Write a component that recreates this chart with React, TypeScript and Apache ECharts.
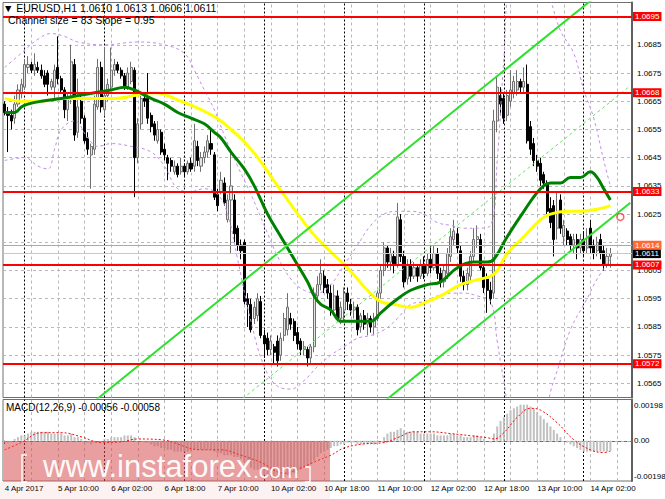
import React, { useEffect, useRef } from 'react';
import * as echarts from 'echarts';

const FONT = '"Liberation Sans", Arial, sans-serif';

// ---- header / info texts ----
const symbolName = 'EURUSD,H1';
const headerOHLC = [1.061, 1.0613, 1.0606, 1.0611]; // O H L C
const channelSize = 83;
const channelSlope = 0.95;
const macdParams = '12,26,9';
const macdLast = [-0.00056, -0.00058];

// ---- axis labels ----
const tickLabels = ['4 Apr 2017', '5 Apr 10:00', '6 Apr 02:00', '6 Apr 18:00', '7 Apr 10:00', '10 Apr 02:00', '10 Apr 18:00', '11 Apr 10:00', '12 Apr 02:00', '12 Apr 18:00', '13 Apr 10:00', '14 Apr 02:00'];
const barsPerLabel = 16;
const slotCount = 189; // 183 bars + empty right margin
const priceGridLevels = [1.0565, 1.0575, 1.0585, 1.0595, 1.0605, 1.0615, 1.0625, 1.0635, 1.0645, 1.0655, 1.0665, 1.0675, 1.0685, 1.0695];
const verticalGridBars = [8, 16, 24, 32, 40, 48, 56, 64, 72, 80, 88, 96, 104, 112, 120, 128, 136, 144, 152, 160, 168, 176, 184];
const daySeparatorBars = [6, 30, 54, 78, 102, 126, 150, 174];
const macdLevels = [0.00198, 0, -0.00198];

// ---- horizontal levels ----
const redLevels = [1.0695, 1.0668, 1.0633, 1.0607, 1.0572];
const orangeLevel = 1.0614;
const bidLevel = 1.0611;
const boxedLevels = [...redLevels, orangeLevel, bidLevel];

// ---- candles [open, close, low, high] ----
const candles = [
  [1.0664, 1.0661, 1.066, 1.0665], [1.0661, 1.066, 1.0647, 1.0663], [1.066, 1.0658, 1.0655, 1.0662], [1.0659, 1.0664, 1.0657, 1.0667], [1.0664, 1.0669, 1.0663, 1.0671],
  [1.0668, 1.0671, 1.0666, 1.0673], [1.067, 1.0678, 1.0669, 1.068], [1.0677, 1.0678, 1.0675, 1.0681], [1.0678, 1.0676, 1.0675, 1.0679], [1.0676, 1.0678, 1.0674, 1.0682],
  [1.0677, 1.0676, 1.0675, 1.0679], [1.0676, 1.0674, 1.0673, 1.0678], [1.0674, 1.0671, 1.067, 1.0676], [1.0675, 1.0671, 1.0667, 1.0676], [1.067, 1.0672, 1.0669, 1.0673],
  [1.067, 1.0676, 1.0666, 1.0678], [1.0677, 1.0673, 1.0671, 1.0688], [1.0673, 1.0669, 1.0668, 1.0674], [1.0669, 1.0662, 1.0659, 1.067], [1.0662, 1.0666, 1.0658, 1.0668],
  [1.0666, 1.0679, 1.0664, 1.0685], [1.0678, 1.0653, 1.0651, 1.068], [1.0654, 1.0663, 1.0652, 1.0673], [1.0665, 1.0659, 1.0657, 1.0667], [1.0659, 1.0651, 1.065, 1.066],
  [1.0652, 1.0648, 1.0646, 1.0654], [1.0646, 1.0649, 1.0634, 1.065], [1.0648, 1.0664, 1.0646, 1.0667], [1.0663, 1.0677, 1.0662, 1.068], [1.0677, 1.0663, 1.0661, 1.0679],
  [1.0662, 1.0667, 1.066, 1.0684], [1.0667, 1.0671, 1.0665, 1.0673], [1.067, 1.0676, 1.0669, 1.0684], [1.0676, 1.0678, 1.0674, 1.068], [1.0678, 1.0676, 1.0675, 1.0679],
  [1.0676, 1.0674, 1.0673, 1.0677], [1.0674, 1.067, 1.0669, 1.0675], [1.067, 1.0675, 1.0669, 1.0677], [1.0672, 1.0677, 1.0671, 1.0679], [1.0676, 1.0645, 1.0631, 1.0677],
  [1.0645, 1.0657, 1.0643, 1.0659], [1.0657, 1.0666, 1.0655, 1.0667], [1.0666, 1.0665, 1.0663, 1.0668], [1.0666, 1.0659, 1.0657, 1.0675], [1.066, 1.0656, 1.0654, 1.0661],
  [1.0657, 1.0653, 1.0651, 1.0658], [1.0651, 1.0655, 1.065, 1.0658], [1.0654, 1.0647, 1.0646, 1.0655], [1.0648, 1.0646, 1.0644, 1.065], [1.0645, 1.0643, 1.0637, 1.0646],
  [1.0644, 1.0642, 1.064, 1.0645], [1.064, 1.0642, 1.0639, 1.0644], [1.0642, 1.0639, 1.0638, 1.0643], [1.064, 1.0642, 1.0639, 1.0645], [1.0642, 1.064, 1.0638, 1.0643],
  [1.064, 1.0643, 1.0639, 1.0644], [1.0643, 1.0641, 1.064, 1.0645], [1.0642, 1.0651, 1.064, 1.0657], [1.0649, 1.0644, 1.0642, 1.0651], [1.0642, 1.0645, 1.064, 1.0647],
  [1.0645, 1.0647, 1.0643, 1.0649], [1.0647, 1.0651, 1.0645, 1.0653], [1.065, 1.0648, 1.0646, 1.0655], [1.0646, 1.0631, 1.063, 1.0647], [1.0632, 1.0628, 1.0626, 1.0634],
  [1.0633, 1.0637, 1.0632, 1.064], [1.0636, 1.0629, 1.0628, 1.0638], [1.0623, 1.063, 1.0622, 1.0632], [1.063, 1.0635, 1.0611, 1.0648], [1.063, 1.0618, 1.0615, 1.0632],
  [1.062, 1.0614, 1.0612, 1.0621], [1.0614, 1.0612, 1.0609, 1.0616], [1.0615, 1.0594, 1.0593, 1.0616], [1.0595, 1.0593, 1.0585, 1.0597], [1.0593, 1.0584, 1.0583, 1.0595],
  [1.0588, 1.0592, 1.0586, 1.0594], [1.0589, 1.0595, 1.0587, 1.0597], [1.0594, 1.0582, 1.0581, 1.0596], [1.0582, 1.0579, 1.0574, 1.0584], [1.0581, 1.0577, 1.0575, 1.0583],
  [1.0577, 1.058, 1.0575, 1.0582], [1.0578, 1.0576, 1.0572, 1.0579], [1.058, 1.0573, 1.0571, 1.0582], [1.0575, 1.0581, 1.0573, 1.0583], [1.0582, 1.0588, 1.058, 1.059],
  [1.0584, 1.0592, 1.0582, 1.0597], [1.0588, 1.0586, 1.0584, 1.059], [1.0587, 1.0582, 1.058, 1.0588], [1.0583, 1.0579, 1.0577, 1.0585], [1.058, 1.0577, 1.0575, 1.0581],
  [1.0577, 1.0578, 1.0575, 1.058], [1.0577, 1.0574, 1.0571, 1.0578], [1.0574, 1.0578, 1.0572, 1.0579], [1.0578, 1.0597, 1.0576, 1.0599], [1.0596, 1.06, 1.0594, 1.0603],
  [1.06, 1.0604, 1.0598, 1.0609], [1.0603, 1.0599, 1.0597, 1.0605], [1.06, 1.0597, 1.0595, 1.0602], [1.0597, 1.0591, 1.0589, 1.06], [1.0591, 1.0596, 1.0589, 1.06],
  [1.0596, 1.0588, 1.0587, 1.0598], [1.0588, 1.0592, 1.0586, 1.0594], [1.0591, 1.0597, 1.0587, 1.0599], [1.0597, 1.0594, 1.0591, 1.0599], [1.0593, 1.0591, 1.0589, 1.0595],
  [1.0591, 1.0592, 1.0588, 1.0594], [1.0592, 1.0584, 1.0582, 1.0593], [1.0585, 1.0589, 1.0583, 1.059], [1.0589, 1.0586, 1.0584, 1.0591], [1.0586, 1.0588, 1.0582, 1.059],
  [1.0588, 1.0585, 1.0583, 1.0589], [1.0585, 1.0588, 1.0582, 1.059], [1.0588, 1.0597, 1.0587, 1.0598], [1.0597, 1.0605, 1.0595, 1.0607], [1.0605, 1.0613, 1.0603, 1.0615],
  [1.0613, 1.0608, 1.0606, 1.0614], [1.0608, 1.0611, 1.0605, 1.0613], [1.061, 1.0607, 1.0604, 1.0612], [1.0607, 1.0624, 1.0606, 1.0629], [1.0623, 1.061, 1.0608, 1.0625],
  [1.061, 1.0601, 1.0599, 1.0612], [1.0602, 1.0607, 1.06, 1.0609], [1.0607, 1.0603, 1.0601, 1.0609], [1.0603, 1.0606, 1.0602, 1.0608], [1.0606, 1.0603, 1.0601, 1.0607],
  [1.0603, 1.0607, 1.0602, 1.0609], [1.0607, 1.0604, 1.0602, 1.061], [1.0604, 1.0609, 1.0603, 1.0611], [1.0609, 1.0606, 1.0604, 1.0614], [1.0606, 1.0611, 1.0605, 1.0614],
  [1.0611, 1.0604, 1.0602, 1.0613], [1.0604, 1.0601, 1.0599, 1.0606], [1.0601, 1.0605, 1.0599, 1.0607], [1.0604, 1.0611, 1.0602, 1.0613], [1.061, 1.0617, 1.0608, 1.062],
  [1.0616, 1.0619, 1.0614, 1.0623], [1.0618, 1.0613, 1.0611, 1.062], [1.0612, 1.0603, 1.0601, 1.0614], [1.0603, 1.06, 1.0598, 1.0605], [1.06, 1.0604, 1.0598, 1.0606],
  [1.0603, 1.061, 1.0601, 1.0612], [1.061, 1.0616, 1.0608, 1.062], [1.0616, 1.0617, 1.0613, 1.0621], [1.0616, 1.0606, 1.0605, 1.0618], [1.0606, 1.0599, 1.0597, 1.0607],
  [1.0602, 1.0598, 1.059, 1.0604], [1.0598, 1.0595, 1.0593, 1.0601], [1.0597, 1.0658, 1.0595, 1.0662], [1.0658, 1.067, 1.0654, 1.0674], [1.0667, 1.0664, 1.066, 1.067],
  [1.0666, 1.0659, 1.0657, 1.0668], [1.066, 1.0667, 1.0658, 1.0669], [1.0665, 1.0669, 1.0663, 1.0676], [1.0668, 1.0672, 1.0666, 1.0674], [1.0669, 1.0672, 1.0667, 1.0676],
  [1.0672, 1.067, 1.0668, 1.0673], [1.067, 1.0672, 1.0668, 1.0677], [1.0671, 1.0651, 1.065, 1.0678], [1.0656, 1.0648, 1.0646, 1.0658], [1.065, 1.0644, 1.0642, 1.0652],
  [1.0644, 1.0642, 1.064, 1.0646], [1.0643, 1.0637, 1.0635, 1.0645], [1.0639, 1.0636, 1.0634, 1.064], [1.0636, 1.0626, 1.0625, 1.0637], [1.0627, 1.0622, 1.062, 1.0631],
  [1.0628, 1.0616, 1.061, 1.063], [1.062, 1.0626, 1.0616, 1.0633], [1.063, 1.062, 1.0618, 1.0632], [1.0617, 1.0621, 1.0614, 1.0623], [1.0619, 1.0616, 1.0614, 1.062],
  [1.0617, 1.0614, 1.0612, 1.0618], [1.0614, 1.0616, 1.0611, 1.0618], [1.0616, 1.0613, 1.0609, 1.0618], [1.0613, 1.0616, 1.0611, 1.0618], [1.0616, 1.0612, 1.061, 1.0619],
  [1.0613, 1.0617, 1.0611, 1.062], [1.062, 1.0613, 1.0611, 1.0623], [1.0614, 1.0611, 1.0609, 1.0616], [1.0612, 1.0615, 1.061, 1.0617], [1.0616, 1.0611, 1.0609, 1.0618],
  [1.0612, 1.0607, 1.0605, 1.0614], [1.0607, 1.061, 1.0606, 1.0613], [1.061, 1.0611, 1.0606, 1.0613],
];

// ---- indicator lines: [bar, value] ----
const yellowMA = [[0, 1.0666], [5, 1.0665], [11, 1.0665], [17, 1.0666], [23, 1.0666], [29, 1.0666], [33, 1.0666], [39, 1.0667], [45, 1.0668], [53, 1.0665], [59, 1.0662], [65, 1.0658], [74, 1.0648], [82, 1.0635], [90, 1.0622], [95, 1.0615], [103, 1.0606], [109, 1.0598], [113, 1.0594], [117, 1.0593], [122, 1.0592], [127, 1.0594], [131, 1.0596], [137, 1.06], [143, 1.0602], [146, 1.0603], [148, 1.0605], [151, 1.0611], [156, 1.0617], [161, 1.0623], [164, 1.0625], [169, 1.0626], [173, 1.0626], [179, 1.0627], [182, 1.0628]];
const greenMA = [[0, 1.0661], [3, 1.0661], [5, 1.0663], [7, 1.0664], [11, 1.0665], [17, 1.0666], [22, 1.0667], [27, 1.0668], [32, 1.0669], [36, 1.067], [39, 1.0669], [44, 1.0666], [48, 1.0664], [52, 1.0661], [56, 1.0659], [60, 1.0657], [63, 1.0654], [65, 1.0652], [68, 1.0647], [72, 1.0641], [75, 1.0635], [79, 1.0625], [83, 1.0617], [87, 1.0609], [91, 1.0601], [93, 1.0596], [95, 1.0593], [98, 1.0591], [101, 1.0587], [103, 1.0587], [107, 1.0587], [110, 1.0587], [113, 1.059], [117, 1.0594], [122, 1.0598], [127, 1.06], [131, 1.0601], [136, 1.0606], [141, 1.0608], [145, 1.0608], [147, 1.0609], [151, 1.0617], [156, 1.0626], [161, 1.0634], [164, 1.0636], [167, 1.0636], [170, 1.0638], [173, 1.0638], [176, 1.064], [178, 1.0638], [180, 1.0634], [182, 1.063]];
const upperBand = [[0, 1.0677], [5, 1.0682], [10, 1.0687], [14, 1.0689], [18, 1.0688], [22, 1.0686], [30, 1.0685], [40, 1.0686], [48, 1.0685], [54, 1.0682], [57, 1.0676], [60, 1.0669], [63, 1.0662], [66, 1.0653], [70, 1.0642], [74, 1.0632], [78, 1.0621], [82, 1.061], [86, 1.0602], [90, 1.0598], [94, 1.0597], [98, 1.06], [102, 1.0607], [106, 1.0614], [110, 1.0621], [114, 1.0625], [118, 1.0626], [122, 1.0626], [126, 1.0625], [130, 1.0622], [134, 1.0621], [138, 1.062], [142, 1.062], [146, 1.0621], [148, 1.0644], [150, 1.068], [152, 1.0708], [160, 1.0714], [164, 1.0701], [167, 1.069], [171, 1.0682], [174, 1.0669], [177, 1.0659], [180, 1.0644], [182, 1.0635]];
const lowerBand = [[0, 1.0644], [6, 1.0645], [10, 1.0642], [13, 1.0641], [15, 1.0648], [17, 1.0655], [21, 1.0658], [25, 1.0652], [28, 1.0649], [32, 1.065], [38, 1.0649], [44, 1.0647], [48, 1.0642], [52, 1.0634], [56, 1.0633], [60, 1.0634], [64, 1.0632], [67, 1.0625], [70, 1.0609], [74, 1.0587], [78, 1.0571], [82, 1.0564], [86, 1.0563], [90, 1.0566], [94, 1.0571], [98, 1.0575], [102, 1.0578], [106, 1.0581], [110, 1.0582], [114, 1.0584], [118, 1.0588], [122, 1.0593], [126, 1.0594], [130, 1.0596], [134, 1.0597], [138, 1.0597], [142, 1.0596], [146, 1.0594], [148, 1.058], [150, 1.0566], [152, 1.0557], [160, 1.0552], [165, 1.0566], [170, 1.0584], [175, 1.0595], [178, 1.0602], [182, 1.0609]];

// ---- equidistant channel (upper line anchors; width = channel size) ----
const channelUpper = [[0, 1.0533], [188, 1.0712]];
const channelWidth = 0.0083;
const alertMarker = [[185, 1.0624]];

// ---- MACD (12,26,9) ----
const macdMain = [
  -0.0001, -0.0001, 0, 0.0001, 0.0002, 0.0003, 0.0003, 0.0004, 0.0005, 0.0005,
  0.0005, 0.0005, 0.0005, 0.0005, 0.0004, 0.0004, 0.0004, 0.0004, 0.0003, 0.0003,
  0.0004, 0.0002, 0.0002, 0.0001, 0, -0.0001, -0.0002, -0.0001, 0, 0,
  0.0001, 0.0001, 0.0002, 0.0002, 0.0002, 0.0002, 0.0003, 0.0003, 0.0003, 0.0002,
  0, 0, -0.0001, -0.0001, -0.0002, -0.0003, -0.0003, -0.0004, -0.0004, -0.0005,
  -0.0005, -0.0006, -0.0006, -0.0006, -0.0006, -0.0006, -0.0006, -0.0005, -0.0005, -0.0005,
  -0.0005, -0.0005, -0.0005, -0.0006, -0.0007, -0.0007, -0.0008, -0.0008, -0.0008, -0.0009,
  -0.0009, -0.001, -0.0012, -0.0013, -0.0015, -0.0016, -0.0016, -0.0018, -0.0019, -0.002,
  -0.002, -0.0021, -0.0021, -0.0021, -0.002, -0.0019, -0.0019, -0.0018, -0.0017, -0.0016,
  -0.0015, -0.0014, -0.0013, -0.0011, -0.0009, -0.0007, -0.0006, -0.0005, -0.0004, -0.0003,
  -0.0003, -0.0002, -0.0002, -0.0001, -0.0001, -0.0001, -0.0002, -0.0002, -0.0002, -0.0002,
  -0.0002, -0.0002, -0.0001, 0, 0.0002, 0.0004, 0.0005, 0.0005, 0.0006, 0.0007,
  0.0006, 0.0005, 0.0005, 0.0005, 0.0005, 0.0004, 0.0004, 0.0004, 0.0004, 0.0004,
  0.0003, 0.0003, 0.0003, 0.0003, 0.0004, 0.0004, 0.0003, 0.0003, 0.0002, 0.0002,
  0.0002, 0.0003, 0.0003, 0.0002, 0.0001, 0, -0.0001, 0.0004, 0.0008, 0.0011,
  0.0013, 0.0015, 0.0017, 0.0018, 0.0019, 0.002, 0.002, 0.002, 0.0019, 0.0018,
  0.0016, 0.0014, 0.0012, 0.001, 0.0008, 0.0006, 0.0004, 0.0002, 0, -0.0001,
  -0.0002, -0.0003, -0.0004, -0.0005, -0.0006, -0.0006, -0.0006, -0.0006, -0.0006, -0.0006,
  -0.0006, -0.0006, -0.00056,
];
const macdSignal = [[0, -0.0005], [5, -0.0001], [11, 0.00045], [17, 0.00045], [23, 0.00022], [29, -0.0001], [35, -0.00006], [40, 0.0001], [47, 0.00006], [59, -0.0005], [65, -0.0005], [71, -0.0008], [77, -0.0012], [84, -0.0018], [89, -0.0015], [94, -0.0011], [98, -0.0008], [102, -0.0004], [108, -0.00017], [114, -0.0001], [118, 0.00017], [123, 0.0005], [128, 0.0005], [134, 0.0004], [140, 0.00028], [145, 0.00017], [147, 0.0001], [150, 0.00045], [154, 0.0013], [158, 0.0018], [161, 0.0017], [166, 0.001], [171, 0.00006], [176, -0.0005], [180, -0.00065], [182, -0.00058]];

const categories = Array.from({ length: slotCount }, (_, i) => String(i));
const isLabelSlot = (i: number) => i % barsPerLabel === 0 && i / barsPerLabel < tickLabels.length;

const gridLine = { color: '#b8b8b8', type: [3, 3] as number[], width: 1 };
const dayLine = { color: '#000000', type: [2, 2] as number[], width: 1 };
const hiddenLine = { color: 'rgba(255,255,255,0)', width: 1, type: 'solid' };

function levelLabel(bg: string, fg: string) {
  return {
    show: true, position: 'end', distance: 1, backgroundColor: bg, color: fg,
    fontSize: 8, fontFamily: FONT, padding: [1, 2, 0, 2],
    formatter: (p: any) => Number(p.value).toFixed(4),
  };
}

function priceAxisLabel(v: number) {
  const s = v.toFixed(4);
  if (!s.endsWith('5')) return '';
  // labels fully covered by a level box are not shown (as in the terminal)
  if (boxedLevels.some((l) => Math.abs(l - v) < 0.00015)) return '';
  return s;
}

function buildOption() {
  return {
    animation: false,
    backgroundColor: '#ffffff',
    textStyle: { fontFamily: FONT },
    grid: [
      { left: 3, top: 2.5, width: 629, height: 395, show: true, borderColor: '#707070', borderWidth: 1 },
      { left: 3, top: 399.5, width: 629, height: 81.5, show: true, borderColor: '#707070', borderWidth: 1 },
    ],
    xAxis: [
      { type: 'category', gridIndex: 0, data: categories, boundaryGap: true, axisLine: { show: false }, axisTick: { show: false }, axisLabel: { show: false }, splitLine: { show: false } },
      {
        type: 'category', gridIndex: 1, data: categories, boundaryGap: true,
        axisLine: { show: true, lineStyle: { color: '#707070' } },
        axisTick: { show: true, alignWithLabel: true, length: 3, interval: (i: number) => isLabelSlot(i), lineStyle: { color: '#000' } },
        axisLabel: {
          show: true, interval: (i: number) => isLabelSlot(i), align: 'left', fontSize: 8, color: '#000', margin: 3, fontFamily: FONT,
          formatter: (_v: string, i: number) => (isLabelSlot(i) ? tickLabels[i / barsPerLabel] : ''),
        },
        splitLine: { show: false },
      },
    ],
    yAxis: [
      {
        type: 'value', gridIndex: 0, position: 'right', min: 1.056, max: 1.07, interval: 0.0005,
        axisLine: { show: true, lineStyle: { color: '#606060', width: 2 } },
        axisTick: { show: false }, splitLine: { show: false },
        axisLabel: { color: '#000', fontSize: 8, margin: 5, fontFamily: FONT, formatter: priceAxisLabel },
      },
      {
        type: 'value', gridIndex: 1, position: 'right', min: -0.00223, max: 0.00229,
        axisLine: { show: true, lineStyle: { color: '#606060', width: 2 } },
        axisTick: { show: false }, splitLine: { show: false }, axisLabel: { show: false },
      },
    ],
    series: [
      {
        name: 'grid-main', type: 'line', xAxisIndex: 0, yAxisIndex: 0, data: [[0, null]], silent: true, symbol: 'none',
        markLine: {
          z: 1, silent: true, precision: 6, symbol: ['none', 'none'], label: { show: false },
          data: [
            ...priceGridLevels.map((v) => ({ yAxis: v, lineStyle: gridLine })),
            ...verticalGridBars.map((b) => ({ xAxis: b, lineStyle: gridLine })),
            ...daySeparatorBars.map((b) => ({ xAxis: b, lineStyle: dayLine })),
          ],
        },
      },
      {
        name: 'EURUSD', type: 'candlestick', xAxisIndex: 0, yAxisIndex: 0, z: 2, barWidth: 2.6,
        data: candles,
        itemStyle: { color: '#e4e4e4', borderColor: '#707070', color0: '#000000', borderColor0: '#000000', borderWidth: 1 },
      },
      { name: 'BB upper', type: 'line', xAxisIndex: 0, yAxisIndex: 0, z: 3, data: upperBand, smooth: 0.4, symbol: 'none', lineStyle: { color: '#c28ee8', width: 1, type: [3, 3] } },
      { name: 'BB lower', type: 'line', xAxisIndex: 0, yAxisIndex: 0, z: 3, data: lowerBand, smooth: 0.4, symbol: 'none', lineStyle: { color: '#c28ee8', width: 1, type: [3, 3] } },
      { name: 'MA slow', type: 'line', xAxisIndex: 0, yAxisIndex: 0, z: 4, data: yellowMA, smooth: 0.4, symbol: 'none', lineStyle: { color: '#ffff00', width: 3 } },
      { name: 'MA fast', type: 'line', xAxisIndex: 0, yAxisIndex: 0, z: 4, data: greenMA, smooth: 0.4, symbol: 'none', lineStyle: { color: '#008000', width: 3 } },
      { name: 'Channel upper', type: 'line', xAxisIndex: 0, yAxisIndex: 0, z: 4, data: channelUpper, symbol: 'none', lineStyle: { color: '#2ee02e', width: 2 } },
      { name: 'Channel middle', type: 'line', xAxisIndex: 0, yAxisIndex: 0, z: 4, data: channelUpper.map(([b, v]) => [b, v - channelWidth / 2]), symbol: 'none', lineStyle: { color: '#5ee85e', width: 1, type: [3, 3] } },
      { name: 'Channel lower', type: 'line', xAxisIndex: 0, yAxisIndex: 0, z: 4, data: channelUpper.map(([b, v]) => [b, v - channelWidth]), symbol: 'none', lineStyle: { color: '#2ee02e', width: 2 } },
      {
        name: 'levels', type: 'line', xAxisIndex: 0, yAxisIndex: 0, data: [[0, null]], silent: true, symbol: 'none',
        markLine: {
          z: 6, silent: true, precision: 6, symbol: ['none', 'none'],
          data: [
            { yAxis: bidLevel, lineStyle: { color: '#c8c8c8', width: 1, type: 'solid' }, label: levelLabel('#000000', '#ffffff') },
            { yAxis: orangeLevel, lineStyle: { color: '#ff8a65', width: 1, type: 'solid' }, label: levelLabel('#ff6a33', '#ffffff') },
            ...redLevels.map((v) => ({ yAxis: v, lineStyle: { color: '#ff0000', width: 2, type: 'solid' }, label: levelLabel('#ff0000', '#ffffff') })),
          ],
        },
      },
      { name: 'alert', type: 'scatter', xAxisIndex: 0, yAxisIndex: 0, z: 7, data: alertMarker, symbol: 'circle', symbolSize: 7, itemStyle: { color: 'rgba(255,255,255,0)', borderColor: '#ff3b3b', borderWidth: 1.5 } },
      {
        name: 'grid-macd', type: 'line', xAxisIndex: 1, yAxisIndex: 1, data: [[0, null]], silent: true, symbol: 'none',
        markLine: {
          z: 1, silent: true, precision: 6, symbol: ['none', 'none'],
          data: [
            ...verticalGridBars.map((b) => ({ xAxis: b, lineStyle: gridLine, label: { show: false } })),
            ...daySeparatorBars.map((b) => ({ xAxis: b, lineStyle: dayLine, label: { show: false } })),
            ...macdLevels.map((v) => ({
              yAxis: v,
              lineStyle: v === 0 ? gridLine : hiddenLine,
              label: { show: true, position: 'end', distance: 2, color: '#000', fontSize: 8, fontFamily: FONT, formatter: v === 0 ? '0.00' : v.toFixed(5) },
            })),
          ],
        },
      },
      { name: 'MACD', type: 'bar', xAxisIndex: 1, yAxisIndex: 1, z: 2, data: macdMain, barWidth: 2, itemStyle: { color: '#c0c0c0' } },
      { name: 'Signal', type: 'line', xAxisIndex: 1, yAxisIndex: 1, z: 3, data: macdSignal, smooth: 0.4, symbol: 'none', lineStyle: { color: '#ff0000', width: 1, type: [2, 2] } },
    ],
    graphic: [
      { type: 'text', x: 3, y: 8, z: 100, style: { text: '▼ ' + symbolName + ' ' + headerOHLC.map((v) => v.toFixed(4)).join(' '), fontSize: 10.5, fontFamily: FONT, fill: '#000', verticalAlign: 'middle' } },
      { type: 'text', x: 8, y: 20, z: 100, style: { text: `Channel size = ${channelSize} Slope = ${channelSlope.toFixed(2)}`, fontSize: 10.5, fontFamily: FONT, fill: '#000', verticalAlign: 'middle' } },
      { type: 'text', x: 6, y: 407, z: 100, style: { text: `MACD(${macdParams}) ${macdLast[0].toFixed(5)} ${macdLast[1].toFixed(5)}`, fontSize: 10, fontFamily: FONT, fill: '#000', verticalAlign: 'middle' } },
      { type: 'rect', z: 50, silent: true, shape: { x: 4, y: 441, width: 326, height: 40 }, style: { fill: 'rgba(215,80,80,0.55)' } },
      { type: 'rect', z: 50, silent: true, shape: { x: 0, y: 482, width: 330, height: 17 }, style: { fill: 'rgba(222,90,90,0.08)' } },
      { type: 'text', x: 43, y: 466, z: 60, silent: true, style: { text: 'www.instaforex', fontSize: 31, fontFamily: FONT, fill: 'rgba(255,255,255,0.95)', verticalAlign: 'middle' } },
      { type: 'text', x: 253, y: 470, z: 60, silent: true, style: { text: '.com', fontSize: 21, fontFamily: FONT, fill: 'rgba(255,255,255,0.95)', verticalAlign: 'middle' } },
      { type: 'polyline', z: 60, silent: true, shape: { points: [[27, 455], [22, 455], [22, 482], [27, 482]] }, style: { stroke: 'rgba(255,255,255,0.95)', lineWidth: 1.5, fill: null } },
      { type: 'polyline', z: 60, silent: true, shape: { points: [[305, 467], [310, 467], [310, 482], [305, 482]] }, style: { stroke: 'rgba(255,255,255,0.95)', lineWidth: 1.5, fill: null } },
    ],
  };
}

export default function App() {
  const ref = useRef<HTMLDivElement>(null);
  useEffect(() => {
    if (!ref.current) return;
    const chart = echarts.init(ref.current, null, { renderer: 'svg' });
    chart.setOption(buildOption() as any);
    return () => chart.dispose();
  }, []);
  return <div ref={ref} style={{ position: 'fixed', left: 0, top: 0, width: 665, height: 499, background: '#ffffff' }} />;
}
